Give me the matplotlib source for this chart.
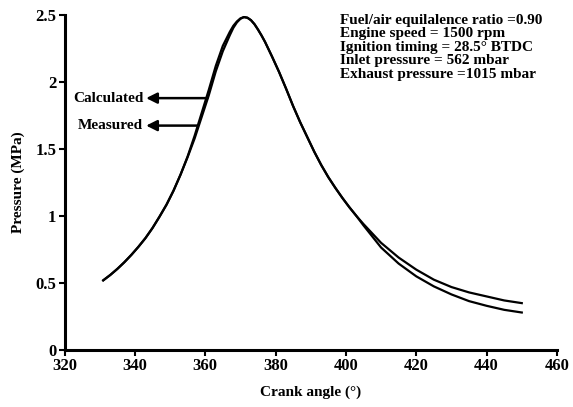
import matplotlib.pyplot as plt

# Cylinder pressure vs crank angle (measured and calculated)
angle = [331, 333, 335, 337, 339, 341, 343, 345, 347, 349, 351, 353, 355, 357, 359,
         361, 363, 365, 367, 368, 369, 370, 371, 372, 373, 374, 375, 376, 377, 379,
         381, 383, 385, 387, 389, 391, 393, 395, 397, 399, 401, 403, 405, 410, 415,
         420, 425, 430, 435, 440, 445, 450]
p_measured = [0.52, 0.56, 0.605, 0.655, 0.71, 0.77, 0.835, 0.91, 0.995, 1.085, 1.19, 1.31, 1.44, 1.58, 1.74,
              1.90, 2.08, 2.23, 2.35, 2.405, 2.445, 2.472, 2.485, 2.48, 2.462, 2.432, 2.392, 2.348, 2.30, 2.19,
              2.075, 1.95, 1.82, 1.70, 1.59, 1.48, 1.38, 1.29, 1.21, 1.135, 1.065, 1.0, 0.94, 0.80, 0.69,
              0.60, 0.525, 0.47, 0.43, 0.40, 0.37, 0.35]
p_calculated = [0.52, 0.56, 0.605, 0.655, 0.71, 0.77, 0.835, 0.91, 0.995, 1.085, 1.19, 1.31, 1.445, 1.60, 1.77,
                1.94, 2.12, 2.27, 2.375, 2.42, 2.452, 2.475, 2.485, 2.48, 2.462, 2.432, 2.392, 2.348, 2.30, 2.19,
                2.075, 1.95, 1.82, 1.70, 1.59, 1.48, 1.38, 1.29, 1.21, 1.135, 1.065, 1.0, 0.93, 0.765, 0.645,
                0.55, 0.475, 0.415, 0.365, 0.33, 0.30, 0.28]

info = ["Fuel/air equilalence ratio =0.90",
        "Engine speed = 1500 rpm",
        "Ignition timing = 28.5\u00b0 BTDC",
        "Inlet pressure = 562 mbar",
        "Exhaust pressure =1015 mbar"]

plt.rcParams['font.family'] = 'Liberation Serif'
plt.rcParams['font.weight'] = 'bold'
plt.rcParams['axes.labelweight'] = 'bold'

fig = plt.figure(figsize=(5.73, 4.07), dpi=100)
ax = fig.add_axes([0.1126, 0.140, 0.8594, 0.823])

ax.plot(angle, p_measured, color='black', lw=1.6, solid_joinstyle='round')
ax.plot(angle, p_calculated, color='black', lw=1.6, solid_joinstyle='round')

ax.set_xlim(320, 460)
ax.set_ylim(0, 2.5)
ax.set_xticks(range(320, 461, 20))
ax.set_yticks([0, 0.5, 1, 1.5, 2, 2.5])
ax.set_yticklabels(['0', '0.5', '1', '1.5', '2', '2.5'])
ax.tick_params(labelsize=12, width=1.5, length=4, direction='out', pad=2)
for s in ['top', 'right']:
    ax.spines[s].set_visible(False)
for s in ['left', 'bottom']:
    ax.spines[s].set_linewidth(2.2)

ax.set_xlabel('Crank angle (\u00b0)', fontsize=11, labelpad=8)
ax.set_ylabel('Pressure (MPa)', fontsize=11, labelpad=7)

# arrows pointing to each curve
arrow = dict(arrowstyle='-|>', color='black', lw=1.8, mutation_scale=16, shrinkA=0, shrinkB=0)
ax.annotate('', xy=(343.2, 1.88), xytext=(360.6, 1.88), arrowprops=arrow)
ax.annotate('', xy=(343.2, 1.675), xytext=(357.7, 1.675), arrowprops=arrow)
ax.text(342.4, 1.88, 'Calculated', ha='right', va='center', fontsize=11)
ax.text(342.4, 1.675, 'Measured', ha='right', va='center', fontsize=11)

# engine operating conditions, one line at a time
for i, line in enumerate(info):
    ax.text(0.559, 0.985 - i * 0.0403, line, transform=ax.transAxes,
            ha='left', va='center', fontsize=11)

fig.savefig('out.png', dpi=100)
